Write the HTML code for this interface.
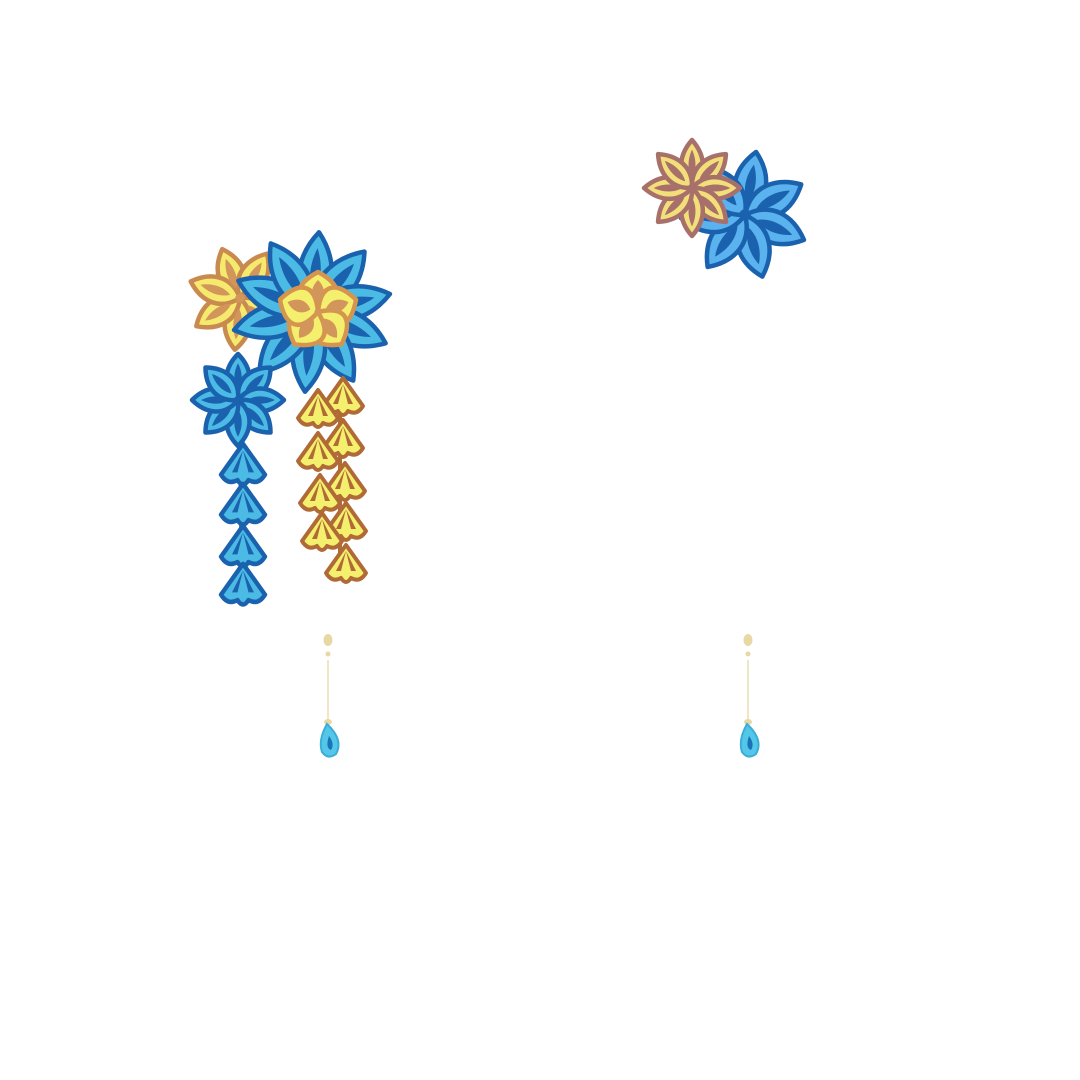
<!DOCTYPE html>
<html><head><meta charset="utf-8"><style>html,body{margin:0;padding:0;background:#fff}svg{display:block}</style></head>
<body>
<svg id="art" width="1080" height="1080" viewBox="0 0 1080 1080">
<rect width="1080" height="1080" fill="#fff"/>
<g id="g"></g>
</svg>
<script>
const NS='http://www.w3.org/2000/svg';
const g=document.getElementById('g');
function mk(tag,attrs,parent){const e=document.createElementNS(NS,tag);for(const k in attrs)e.setAttribute(k,attrs[k]);(parent||g).appendChild(e);return e;}
function petal(L,w){return `M0,0 C${w},${-L*0.3} ${w*0.8},${-L*0.7} 0,${-L} C${-w*0.8},${-L*0.7} ${-w},${-L*0.3} 0,0 Z`;}
function flower(name,cx,cy,n,L,w,rot,stroke,fill,inner){
  const grp=mk('g',{transform:`translate(${cx},${cy})`});
  
  
  for(let i=0;i<n;i++){
    const a=rot+i*360/n;
    mk('path',{d:petal(L,w),transform:`rotate(${a})`,fill:fill,stroke:stroke,'stroke-width':4.5,'stroke-linejoin':'round'},grp);
  }
  for(let i=0;i<n;i++){
    const a=rot+i*360/n;
    mk('path',{d:petal(L*0.6,w*0.32),transform:`rotate(${a}) translate(0,${-L*0.2})`,fill:inner},grp);
  }
  mk('circle',{r:L*0.09,fill:inner},grp);
}
function fan(name,x,y,s,stroke,fill,inner){
  const grp=mk('g',{transform:`translate(${x},${y}) scale(${s})`});
  
  
  mk('path',{d:'M0,-22 L20,6 Q14,16 5,11 Q0,19 -5,11 Q-14,16 -20,6 Z',fill:fill,stroke:stroke,'stroke-width':4,'stroke-linejoin':'round'},grp);
  mk('path',{d:'M0,-16 L-10,4 L-5,4 Z M0,-16 L10,4 L5,4 Z',fill:inner},grp);
}
flower('yellow-back-flower',240,298,7,52,19,-20,'#c98a50','#f5ea6e','#d2955a');
flower('big-blue-flower',312,312,10,80,24,5,'#1a62ad','#4bbbe6','#1a62ad');
flower('yellow-front-flower',318,312,5,40,28,0,'#d6954e','#f5ef6e','#d2955a');
mk('line',{x1:240,y1:440,x2:242,y2:590,stroke:'#1a62ad','stroke-width':4});
[468,508,550,588].forEach((y,i)=>fan('blue-leaf-'+(i+1),243,y,1.1,'#1a62ad','#4bbbe6','#1a62ad'));
flower('small-blue-flower',238,400,8,46,17,0,'#1a62ad','#4bbbe6','#1a62ad');
mk('line',{x1:340,y1:385,x2:340,y2:560,stroke:'#b06a35','stroke-width':4});
[[343,400],[343,442],[345,485],[346,525],[346,567]].forEach((p,i)=>fan('gold-leaf-right-'+(i+1),p[0],p[1],1.0,'#b06a35','#f5ef6e','#b06a35'));
[[318,412],[318,455],[320,497],[322,535]].forEach((p,i)=>fan('gold-leaf-left-'+(i+1),p[0],p[1],1.0,'#b06a35','#f5ef6e','#b06a35'));
flower('right-blue-flower',745,215,7,64,23,10,'#1a62ad','#5ab2ef','#1a62ad');
flower('right-yellow-flower',692,188,8,48,16,0,'#a8706a','#f2df7a','#a8706a');
[[328,'left'],[748,'right']].forEach(([x,s])=>{
  const e=mk('g',{});
  
  
  mk('ellipse',{cx:x,cy:640,rx:4.5,ry:6,fill:'#e8d8a4'},e);
  mk('circle',{cx:x,cy:654,r:2.5,fill:'#e8d8a4'},e);
  mk('line',{x1:x,y1:660,x2:x,y2:720,stroke:'#efe6c6','stroke-width':2},e);
  mk('ellipse',{cx:x,cy:722,rx:4,ry:3,fill:'#e8d8a4'},e);
  mk('path',{d:`M${x-1},724 Q${x+16},740 ${x+8},754 Q${x},760 ${x-6},752 Q${x-10},740 ${x-1},724 Z`,fill:'#54c6e8',stroke:'#3aaed8','stroke-width':2},e);
  mk('path',{d:`M${x+1},736 Q${x+7},744 ${x+3},750 Q${x-3},748 ${x+1},736 Z`,fill:'#1a72b8'},e);
});
</script>
</body></html>
